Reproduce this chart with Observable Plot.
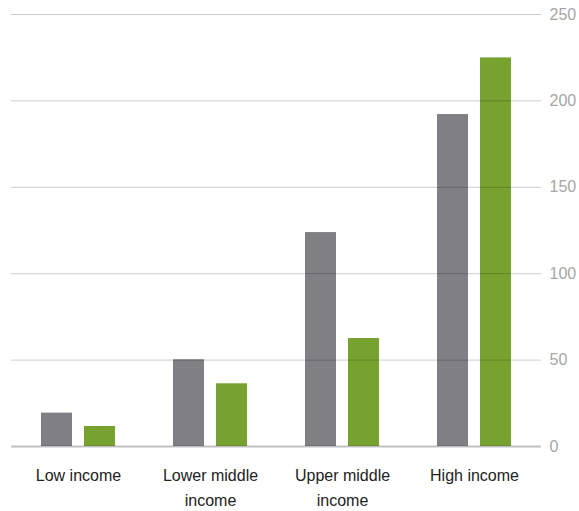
<!DOCTYPE html>
<html>
<head>
<meta charset="utf-8">
<script src="https://cdn.jsdelivr.net/npm/d3@7"></script>
<script src="https://cdn.jsdelivr.net/npm/@observablehq/plot@0.6"></script>
<style>
  html, body { margin: 0; padding: 0; background: #fff; }
  #chart svg { display: block; }
</style>
</head>
<body>
<div id="chart"></div>
<script>
const categories = ["Low income", "Lower middle income", "Upper middle income", "High income"];
const tickLabels = ["Low income", "Lower middle\nincome", "Upper middle\nincome", "High income"];
const grayValues = [19.3, 50.2, 123.8, 192.1];
const greenValues = [11.6, 36.3, 62.5, 224.9];
const yTicks = [0, 50, 100, 150, 200, 250];

const grayData = categories.map((c, i) => ({category: c, value: grayValues[i]}));
const greenData = categories.map((c, i) => ({category: c, value: greenValues[i]}));

const chart = Plot.plot({
  width: 579,
  height: 511,
  marginTop: 14,
  marginBottom: 65,
  marginLeft: 11,
  marginRight: 38,
  style: {fontFamily: "'Liberation Sans', Arial, sans-serif", fontSize: "16px", background: "#fff"},
  x: {domain: categories, padding: 0, label: null},
  y: {domain: [0, 250], label: null},
  marks: [
    Plot.barY(grayData, {x: "category", y: "value", fill: "#808084", insetLeft: 29, insetRight: 72}),
    Plot.barY(greenData, {x: "category", y: "value", fill: "#78a22f", insetLeft: 72, insetRight: 29}),
    Plot.ruleY(yTicks.filter(d => d > 0), {stroke: "#000", strokeOpacity: 0.2, strokeWidth: 1}),
    Plot.ruleY([0], {stroke: "#000", strokeOpacity: 0.25, strokeWidth: 2}),
    Plot.axisY({anchor: "right", ticks: yTicks, tickSize: 0, tickPadding: 8, label: null,
      fill: "#a6a6a6", fontSize: 16}),
    Plot.axisX({anchor: "bottom", tickSize: 0, tickPadding: 17, label: null,
      tickFormat: (d) => tickLabels[categories.indexOf(d)],
      fill: "#222", fontSize: 16, lineHeight: 1.5625})
  ]
});
document.getElementById("chart").appendChild(chart);
</script>
</body>
</html>
